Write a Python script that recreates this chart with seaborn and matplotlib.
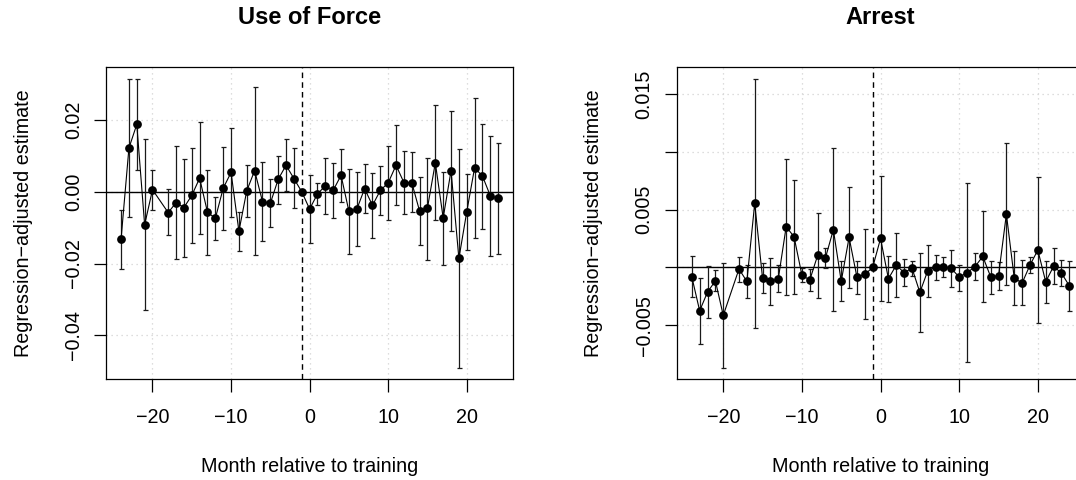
import numpy as np
import pandas as pd
import matplotlib
matplotlib.use("Agg")
import matplotlib.pyplot as plt
import seaborn as sns

# months relative to training (month -19 is absent in the source)
months = [-24, -23, -22, -21, -20, -18, -17, -16, -15, -14, -13, -12, -11, -10,
          -9, -8, -7, -6, -5, -4, -3, -2, -1, 0, 1, 2, 3, 4, 5, 6, 7, 8, 9, 10,
          11, 12, 13, 14, 15, 16, 17, 18, 19, 20, 21, 22, 23, 24]

# Use of Force: estimate and confidence bounds
force_est = [-0.0132, 0.0122, 0.0188, -0.0092, 0.0006, -0.0058, -0.0030, -0.0044,
             -0.0010, 0.0038, -0.0057, -0.0074, 0.0010, 0.0054, -0.0110, 0.0003,
             0.0059, -0.0027, -0.0032, 0.0035, 0.0074, 0.0037, 0.0, -0.0048,
             -0.0006, 0.0017, 0.0004, 0.0046, -0.0054, -0.0049, 0.0009, -0.0038,
             0.0004, 0.0025, 0.0074, 0.0026, 0.0026, -0.0054, -0.0045, 0.0081,
             -0.0073, 0.0059, -0.0186, -0.0056, 0.0067, 0.0044, -0.0011, -0.0018]
force_lo = [-0.0214, -0.0071, 0.0060, -0.0330, -0.0050, -0.0121, -0.0188, -0.0181,
            -0.0144, -0.0119, -0.0175, -0.0135, -0.0106, -0.0070, -0.0165, -0.0070,
            -0.0177, -0.0136, -0.0098, -0.0033, 0.0002, -0.0046, 0.0, -0.0142,
            -0.0038, -0.0061, -0.0074, -0.0029, -0.0174, -0.0152, -0.0060, -0.0130,
            -0.0066, -0.0078, -0.0038, -0.0062, -0.0055, -0.0149, -0.0190, -0.0079,
            -0.0203, -0.0109, -0.0491, -0.0161, -0.0129, -0.0104, -0.0179, -0.0174]
force_hi = [-0.0050, 0.0315, 0.0315, 0.0147, 0.0061, 0.0009, 0.0128, 0.0092,
            0.0123, 0.0195, 0.0061, -0.0014, 0.0126, 0.0178, -0.0056, 0.0076,
            0.0293, 0.0083, 0.0035, 0.0100, 0.0148, 0.0121, 0.0, 0.0047,
            0.0025, 0.0093, 0.0081, 0.0119, 0.0065, 0.0055, 0.0077, 0.0052,
            0.0072, 0.0129, 0.0187, 0.0115, 0.0110, 0.0042, 0.0095, 0.0241,
            0.0055, 0.0226, 0.0120, 0.0050, 0.0262, 0.0189, 0.0156, 0.0137]

# Arrest: estimate and confidence bounds
arrest_est = [-0.00081, -0.00376, -0.00214, -0.00116, -0.00416, -0.00014, -0.00121,
              0.00555, -0.00095, -0.00121, -0.00098, 0.00353, 0.00266, -0.00066,
              -0.00110, 0.00104, 0.00084, 0.00327, -0.00121, 0.00260, -0.00085,
              -0.00061, 0.0, 0.00251, -0.00098, 0.00020, -0.00046, -0.00006,
              -0.00217, -0.00029, 0.00003, 0.00003, -0.00009, -0.00084, -0.00046,
              0.00006, 0.00095, -0.00081, -0.00072, 0.00462, -0.00092, -0.00136,
              0.00020, 0.00150, -0.00124, 0.00009, -0.00049, -0.00159]
arrest_lo = [-0.00257, -0.00665, -0.00442, -0.00208, -0.00870, -0.00124, -0.00266,
             -0.00526, -0.00225, -0.00330, -0.00217, -0.00243, -0.00228, -0.00127,
             -0.00208, -0.00269, -0.00006, -0.00379, -0.00295, -0.00182, -0.00228,
             -0.00451, 0.0, -0.00292, -0.00298, -0.00257, -0.00165, -0.00078,
             -0.00561, -0.00254, -0.00107, -0.00084, -0.00170, -0.00205, -0.00821,
             -0.00110, -0.00298, -0.00228, -0.00194, -0.00156, -0.00329, -0.00329,
             -0.00049, -0.00486, -0.00306, -0.00145, -0.00165, -0.00379]
arrest_hi = [0.00095, -0.00095, 0.00012, -0.00023, 0.00038, 0.00092, 0.00020,
             0.01633, 0.00035, 0.00081, 0.00023, 0.00942, 0.00754, -0.00003,
             -0.00012, 0.00474, 0.00168, 0.01035, 0.00055, 0.00694, 0.00058,
             0.00329, 0.0, 0.00789, 0.00095, 0.00295, 0.00069, 0.00055,
             0.00127, 0.00197, 0.00104, 0.00087, 0.00150, 0.00023, 0.00728,
             0.00124, 0.00488, 0.00058, 0.00046, 0.01075, 0.00145, 0.00061,
             0.00087, 0.00783, 0.00055, 0.00165, 0.00066, 0.00055]

force_yticks = [-0.04, -0.02, 0.00, 0.02]
force_ylabels = ["\u22120.04", "\u22120.02", "0.00", "0.02"]
arrest_yticks = [-0.005, 0.0, 0.005, 0.010, 0.015]
arrest_ylabels = ["\u22120.005", "", "0.005", "", "0.015"]
xticks = [-20, -10, 0, 10, 20]

sns.set_theme(style="ticks")
plt.rcParams["font.family"] = ["Liberation Sans", "DejaVu Sans"]
plt.rcParams["axes.unicode_minus"] = True
for key in ["text.color", "axes.labelcolor", "xtick.color", "ytick.color",
            "axes.edgecolor"]:
    plt.rcParams[key] = "black"

FS = 14.2
fig = plt.figure(figsize=(10.76, 4.8), dpi=100)
ax1 = fig.add_axes([0.0985, 0.2098, 0.3785, 0.6512])
ax2 = fig.add_axes([0.6289, 0.2098, 0.3789, 0.6512])


def draw_panel(ax, title, est, lo, hi, ylim, yticks, ylabels):
    df = pd.DataFrame({"month": months, "est": est, "lo": lo, "hi": hi})
    ax.set_xlim(-25.92, 25.92)
    ax.set_ylim(*ylim)
    ax.set_xticks(xticks)
    ax.set_xticklabels([f"{t}".replace("-", "\u2212") for t in xticks])
    ax.set_yticks(yticks)
    ax.set_yticklabels(ylabels, rotation=90, va="center")
    ax.grid(True, linestyle=(0, (1, 3)), color="lightgray", linewidth=0.9, zorder=0)
    ax.set_axisbelow(True)

    ax.axhline(0, color="black", linewidth=1.0, zorder=2)
    ax.axvline(-1, color="black", linewidth=1.0, linestyle=(0, (4, 3)), zorder=2)

    bars = df[df["hi"] != df["lo"]]
    ax.errorbar(bars["month"], bars["est"],
                yerr=[bars["est"] - bars["lo"], bars["hi"] - bars["est"]],
                fmt="none", ecolor="#1a1a1a", elinewidth=0.9, capsize=1.8,
                capthick=0.9, zorder=3)
    sns.lineplot(data=df, x="month", y="est", ax=ax, color="black", linewidth=0.8,
                 marker="o", markersize=6.3, markeredgewidth=0, zorder=4)

    ax.set_title(title, fontsize=FS * 1.2, fontweight="bold", pad=30.4)
    ax.set_xlabel("Month relative to training", fontsize=FS)
    ax.set_ylabel("Regression\u2212adjusted estimate", fontsize=FS)
    ax.xaxis.set_label_coords(0.5, -0.247)
    ax.yaxis.set_label_coords(-0.18, 0.5)
    ax.tick_params(axis="both", labelsize=FS, length=9, width=0.9,
                   color="black", labelcolor="black", direction="out")
    ax.tick_params(axis="x", pad=11.4)
    ax.tick_params(axis="y", pad=7.6)
    for sp in ax.spines.values():
        sp.set_color("black")
        sp.set_linewidth(0.9)


draw_panel(ax1, "Use of Force", force_est, force_lo, force_hi,
           (-0.0523, 0.0349), force_yticks, force_ylabels)
draw_panel(ax2, "Arrest", arrest_est, arrest_lo, arrest_hi,
           (-0.0097, 0.0174), arrest_yticks, arrest_ylabels)

fig.savefig("out.png", dpi=100)
